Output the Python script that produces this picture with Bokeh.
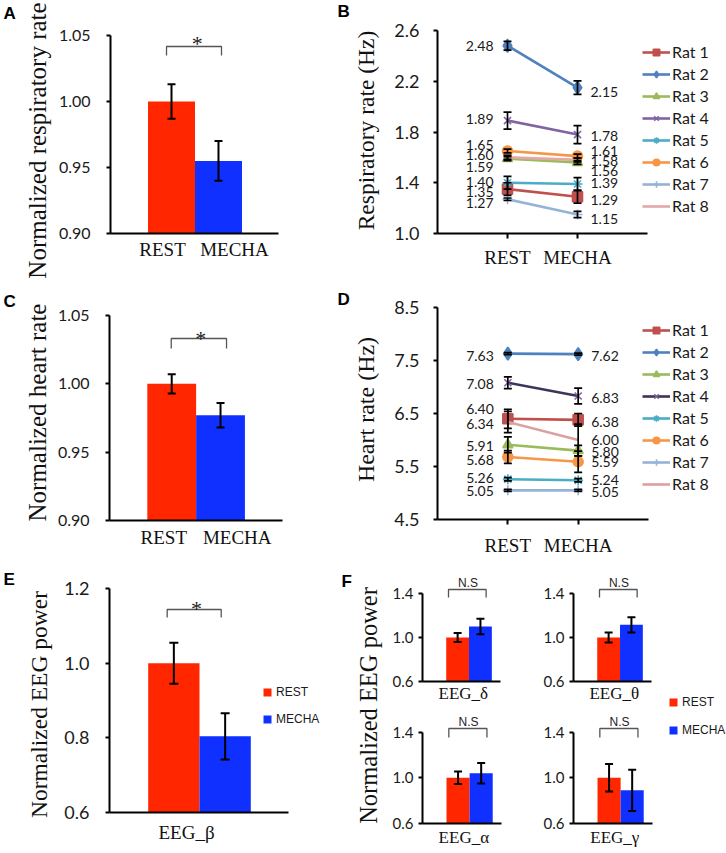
import math
from bokeh.plotting import figure
from bokeh.models import (ColumnDataSource, Range1d, FixedTicker, FactorRange,
                          Label, Legend, LegendItem, NumeralTickFormatter)
from bokeh.layouts import row, column
from bokeh.embed import file_html
from bokeh.resources import INLINE
from bokeh.core.properties import value

# ---------------------------------------------------------------- data
CONDITIONS = ["REST", "MECHA"]

resp_norm_mean = [1.000, 0.955]
resp_norm_sem = [0.013, 0.015]
heart_norm_mean = [1.000, 0.977]
heart_norm_sem = [0.007, 0.009]

RATS = ["Rat 1", "Rat 2", "Rat 3", "Rat 4", "Rat 5", "Rat 6", "Rat 7", "Rat 8"]
resp_rest = [1.35, 2.48, 1.59, 1.89, 1.40, 1.65, 1.27, 1.60]
resp_mecha = [1.29, 2.15, 1.56, 1.78, 1.39, 1.61, 1.15, 1.58]
resp_rest_sem = [0.05, 0.035, 0.015, 0.067, 0.05, 0.015, 0.01, 0.015]
resp_mecha_sem = [0.05, 0.053, 0.015, 0.071, 0.05, 0.015, 0.025, 0.015]

heart_rest = [6.40, 7.63, 5.91, 7.08, 5.26, 5.68, 5.05, 6.34]
heart_mecha = [6.38, 7.62, 5.80, 6.83, 5.24, 5.59, 5.05, 6.00]
heart_rest_sem = [0.18, 0.02, 0.15, 0.11, 0.03, 0.12, 0.02, 0.20]
heart_mecha_sem = [0.12, 0.02, 0.10, 0.15, 0.03, 0.20, 0.02, 0.30]

beta_mean = [1.000, 0.804]
beta_sem = [0.055, 0.062]

BANDS = ["EEG_δ", "EEG_θ", "EEG_α", "EEG_γ"]
band_rest_mean = [1.00, 1.00, 1.00, 1.00]
band_rest_sem = [0.04, 0.045, 0.055, 0.12]
band_mecha_mean = [1.10, 1.115, 1.04, 0.89]
band_mecha_sem = [0.07, 0.07, 0.09, 0.18]

norm_ticks = [0.90, 0.95, 1.00, 1.05]
resp_ticks = [1.0, 1.4, 1.8, 2.2, 2.6]
heart_ticks = [4.5, 5.5, 6.5, 7.5, 8.5]
beta_ticks = [0.6, 0.8, 1.0, 1.2]
band_ticks = [0.6, 1.0, 1.4]

# category positions on the numeric x scales (1 = REST, 2 = MECHA)
XPOS = [i + 1 for i in range(len(CONDITIONS))]

# ---------------------------------------------------------------- style
RED = "#FF2600"
BLUE = "#0F30FF"
RAT_COLORS = ["#C0504D", "#4F81BD", "#9BBB59", "#8064A2", "#4BACC6", "#F79646", "#95B3D7", "#E3A8A6"]
RAT_COLORS_D = ["#C0504D", "#4F81BD", "#9BBB59", "#3E3358", "#4BACC6", "#F79646", "#95B3D7", "#DDA09E"]
RAT_MARKERS = ["square", "diamond", "triangle", "x", "asterisk", "circle", "cross", None]
RAT_SIZES = [10, 13, 10, 10, 10, 10, 10, 0]
# value-label vertical nudges in px (+ = down) to keep them apart
resp_dy_rest = [3, 0, 8, -2, -1, -6, 4, -2]
resp_dy_mecha = [3, 4, 9, 1, -1, -5, 5, 1]
heart_dy_rest = [-10, 2, 1, 1, -1, 3, 1, 2]
heart_dy_mecha = [2, 2, 1, 2, 0, 0, 2, 0]

SERIF = "Liberation Serif"
SANS = "Liberation Sans"
TICKF = "Lato"


def mkfig(box, frame, x_range, y_range, axes=True):
    x0, y0, w, h = box
    fl, ft, fr, fb = frame
    bl = round(fl - x0)
    br = round(x0 + w - fr)
    bt = round(ft - y0)
    bb = round(y0 + h - fb)
    kw = dict(width=w, height=h, x_range=x_range, y_range=y_range, title=None,
              output_backend="svg", toolbar_location=None,
              min_border_left=bl, min_border_right=br,
              min_border_top=bt, min_border_bottom=bb)
    if not axes:
        kw.update(x_axis_location=None, y_axis_location=None)
    p = figure(**kw)
    p.outline_line_color = None
    p.xgrid.visible = False
    p.ygrid.visible = False
    p.background_fill_color = "white"
    p.border_fill_color = "white"
    return p, (x0 + bl, y0 + bt, x0 + w - br, y0 + h - bb)


def strip(box, items):
    """blank figure (frame = whole figure) holding panel letter / axis title"""
    x0, y0, w, h = box
    p, fr = mkfig(box, (x0, y0, x0 + w, y0 + h), Range1d(0, 1), Range1d(0, 1), axes=False)
    for kind, rx, ry, text, size in items:
        if kind == "letter":
            lab = Label(x=rx - x0, y=y0 + h - ry, x_units="screen", y_units="screen", text=text,
                        text_align="left", text_baseline="top", text_font=SANS,
                        text_font_style="bold", text_font_size=f"{size}px", text_color="black")
        else:
            lab = Label(x=rx - x0, y=y0 + h - ry, x_units="screen", y_units="screen", text=text,
                        angle=math.pi / 2, text_align="center", text_baseline="middle",
                        text_font=SERIF, text_font_size=f"{size}px", text_color="#111111")
        p.add_layout(lab)
    return p


def style_y(p, ticks, fmt, bounds, size, standoff):
    ax = p.yaxis[0]
    ax.ticker = FixedTicker(ticks=ticks)
    ax.formatter = NumeralTickFormatter(format=fmt)
    ax.bounds = bounds
    ax.axis_line_width = 2
    ax.axis_line_color = "black"
    ax.major_tick_line_width = 2
    ax.major_tick_line_color = "black"
    ax.major_tick_out = 4
    ax.major_tick_in = 0
    ax.minor_tick_out = 0
    ax.minor_tick_in = 0
    ax.major_label_text_font = TICKF
    ax.major_label_text_font_size = f"{size}px"
    ax.major_label_text_color = "#1a1a1a"
    ax.major_label_standoff = standoff


def style_x(p, bounds, tick_pos, tick_text, size, standoff, tick_out=0):
    ax = p.xaxis[0]
    ax.bounds = bounds
    ax.ticker = FixedTicker(ticks=tick_pos)
    ax.major_label_overrides = {t: s for t, s in zip(tick_pos, tick_text)}
    ax.axis_line_width = 2
    ax.axis_line_color = "black"
    ax.major_tick_out = tick_out
    ax.major_tick_in = 0
    ax.major_tick_line_width = 2
    ax.major_tick_line_color = "black"
    ax.minor_tick_out = 0
    ax.minor_tick_in = 0
    ax.major_label_text_font = SERIF
    ax.major_label_text_font_size = f"{size}px"
    ax.major_label_text_color = "#111111"
    ax.major_label_standoff = standoff


def legend_style(**kw):
    base = dict(padding=0, margin=0, border_line_color=None, background_fill_alpha=0,
                label_text_color="#1a1a1a")
    base.update(kw)
    return base


# ---------------------------------------------------------------- bar panels
def bar_panel(box, frame, axis_top, yspan, ticks, fmt, tick_size, tick_standoff,
              means, sems, xr, xbounds, cap, xlab_pos, xlab_text, xlab_size, xlab_standoff,
              bracket_x, bracket_px, mark, mark_x, mark_px, mark_font, mark_size):
    ymin, ymax = yspan
    fl, ft, fr, fb = frame
    yend = ymin + (ymax - ymin) * (fb - ft) / (fb - axis_top)

    def py(v):
        return ymin + (ymax - ymin) * (fb - v) / (fb - axis_top)

    p, fra = mkfig(box, frame, Range1d(*xr), Range1d(ymin, yend))
    src = ColumnDataSource(dict(
        x=XPOS, cond=CONDITIONS, top=means,
        lo=[m - s for m, s in zip(means, sems)],
        hi=[m + s for m, s in zip(means, sems)],
        color=[RED, BLUE]))
    bars = p.vbar(x="x", top="top", bottom=ymin, width=1.0, source=src,
                  fill_color="color", line_color=None)
    p.segment(x0="x", y0="lo", x1="x", y1="hi", source=src, line_color="black", line_width=2)
    p.scatter(x="x", y="lo", source=src, marker="dash", size=cap, line_color="black", line_width=2)
    p.scatter(x="x", y="hi", source=src, marker="dash", size=cap, line_color="black", line_width=2)
    btop, bbot = bracket_px
    xl, xh = bracket_x
    p.line(x=[xl, xl, xh, xh], y=[py(bbot), py(btop), py(btop), py(bbot)],
           line_color="#555555", line_width=1.3)
    p.text(x=[mark_x], y=[py(mark_px)], text=[mark], text_align="center",
           text_baseline="alphabetic", text_font=value(mark_font),
           text_font_size=f"{mark_size}px", text_color="#222222")
    style_y(p, ticks, fmt, (ymin, ymax), tick_size, tick_standoff)
    style_x(p, xbounds, xlab_pos, xlab_text, xlab_size, xlab_standoff)
    return p, fra, bars


# Panel A  (x: 47 px per category, REST at x=1)
pA, frA, _ = bar_panel((54, 0, 276, 280), (110, 24, 278, 233), 35, (0.90, 1.05), norm_ticks,
                       "0.00", 16, 16, resp_norm_mean, resp_norm_sem,
                       (-0.298, 3.277), (-0.298, 3.277), 8,
                       [0.809, 2.34], CONDITIONS, 19, 5,
                       (0.894, 2.064), (46, 55), "*", 1.547, 43, SERIF, 22)
# Panel C
pC, frC, _ = bar_panel((54, 280, 276, 280), (109, 315, 282, 520), 315, (0.90, 1.05), norm_ticks,
                       "0.00", 16, 16, heart_norm_mean, heart_norm_sem,
                       (-0.275, 3.27), (-0.275, 3.27), 8,
                       [0.838, 2.342], CONDITIONS, 19, 6,
                       (0.99, 2.123), (338, 348), "*", 1.594, 338, SERIF, 22)
# Panel E (frame runs on to hold the legend; axis line stops at its bound)
pE, frE, barsE = bar_panel((54, 560, 286, 290), (109, 588, 340, 812), 588, (0.6, 1.2), beta_ticks,
                           "0.0", 18, 16, beta_mean, beta_sem,
                           (-0.2544, 4.2485), (-0.2544, 3.235), 9,
                           [1.247], ["EEG_β"], 19, 9,
                           (0.87, 1.923), (609, 617), "*", 1.44, 608, SERIF, 22)
legE = Legend(items=[LegendItem(label=CONDITIONS[0], renderers=[barsE], index=0),
                     LegendItem(label=CONDITIONS[1], renderers=[barsE], index=1)],
              location=(153, 86), glyph_width=10, glyph_height=10, label_height=12,
              spacing=13, label_standoff=4,
              **legend_style(label_text_font=SANS, label_text_font_size="12px"))
pE.add_layout(legE)


# ---------------------------------------------------------------- line panels (B, D)
def line_panel(box, frame, axis_right, yr, ticks, rest, mecha, rest_sem, mecha_sem,
               dy_rest, dy_mecha, colors, label_standoff, legend_x, legend_vy):
    fl, ft, fr, fb = frame
    unit = (axis_right - fl) / 3.0
    xr = Range1d(0, (fr - fl) / unit)
    p, fra = mkfig(box, frame, xr, Range1d(*yr))
    items = []
    for i, rat in enumerate(RATS):
        src = ColumnDataSource(dict(x=XPOS, y=[rest[i], mecha[i]]))
        rs = [p.line("x", "y", source=src, line_color=colors[i], line_width=2.6)]
        if RAT_MARKERS[i]:
            mcol = RAT_COLORS[i]
            rs.append(p.scatter("x", "y", source=src, marker=RAT_MARKERS[i], size=RAT_SIZES[i],
                                fill_color=mcol, line_color=mcol, line_width=1.6))
        items.append(LegendItem(label=rat, renderers=rs))
    ex, elo, ehi = [], [], []
    for i in range(len(RATS)):
        for xpos, m, s in ((XPOS[0], rest[i], rest_sem[i]), (XPOS[1], mecha[i], mecha_sem[i])):
            ex.append(xpos)
            elo.append(m - s)
            ehi.append(m + s)
    esrc = ColumnDataSource(dict(x=ex, lo=elo, hi=ehi))
    p.segment(x0="x", y0="lo", x1="x", y1="hi", source=esrc, line_color="black", line_width=1.7)
    p.scatter(x="x", y="lo", source=esrc, marker="dash", size=8, line_color="black", line_width=1.7)
    p.scatter(x="x", y="hi", source=esrc, marker="dash", size=8, line_color="black", line_width=1.7)
    p.text(x=[XPOS[0]] * len(rest), y=rest, text=[f"{v:.2f}" for v in rest],
           x_offset=-14, y_offset=dy_rest, text_align="right", text_baseline="middle",
           text_font=value(TICKF), text_font_size="14px", text_color="#1a1a1a")
    p.text(x=[XPOS[1]] * len(mecha), y=mecha, text=[f"{v:.2f}" for v in mecha],
           x_offset=13, y_offset=dy_mecha, text_align="left", text_baseline="middle",
           text_font=value(TICKF), text_font_size="14px", text_color="#1a1a1a")
    style_y(p, ticks, "0.0", yr, 18, 14)
    style_x(p, (0, 3), XPOS, CONDITIONS, 19, label_standoff, tick_out=5)
    leg = Legend(items=items, location=(legend_x - fl, legend_vy), glyph_width=28,
                 glyph_height=16, label_height=16, spacing=3, label_standoff=2,
                 **legend_style(label_text_font=TICKF, label_text_font_size="16px"))
    p.add_layout(leg)
    return p, fra


pB, frB = line_panel((384, 0, 342, 280), (437, 30, 726, 233), 647, (1.0, 2.6), resp_ticks,
                     resp_rest, resp_mecha, resp_rest_sem, resp_mecha_sem,
                     resp_dy_rest, resp_dy_mecha, RAT_COLORS, 8, 642, 18)
pD, frD = line_panel((384, 280, 342, 280), (437, 307, 726, 519), 648, (4.5, 8.5), heart_ticks,
                     heart_rest, heart_mecha, heart_rest_sem, heart_mecha_sem,
                     heart_dy_rest, heart_dy_mecha, RAT_COLORS_D, 10, 642, 26)

# ---------------------------------------------------------------- panel F (four bands)
FX = (-0.54, 2.88)


def band_panel(box, frame, axis_top, k, bracket_px, ns_px, lab_standoff):
    p, _, _ = bar_panel(box, frame, axis_top, (0.6, 1.4), band_ticks, "0.0", 15, 5,
                        [band_rest_mean[k], band_mecha_mean[k]],
                        [band_rest_sem[k], band_mecha_sem[k]],
                        FX, FX, 8, [1.25], [BANDS[k]], 17, lab_standoff,
                        (0.6, 2.25), bracket_px, "N.S", 1.45, ns_px + 4, SANS, 12)
    return p


pDelta = band_panel((385, 560, 152, 148), (422, 563, 500, 681), 593, 0, (589, 597), 578, 2)
pTheta = band_panel((537, 560, 123, 148), (573, 563, 651, 681), 593, 1, (589, 597), 578, 2)
pAlpha = band_panel((385, 708, 152, 142), (422, 709, 501, 823), 731.5, 2, (728, 737), 717, 4)
pGamma = band_panel((537, 708, 123, 142), (573, 709, 652, 823), 731.5, 3, (728, 737), 717, 4)

# legend strip for F (its bars are hidden; they only feed the legend swatches)
boxFR = (660, 560, 66, 290)
pFR, _ = mkfig(boxFR, (660, 560, 726, 850), FactorRange(factors=CONDITIONS), Range1d(0, 2),
               axes=False)
srcFR = ColumnDataSource(dict(x=CONDITIONS, top=[band_rest_mean[0], band_mecha_mean[0]],
                              color=[RED, BLUE]))
rFR = pFR.vbar(x="x", top="top", width=0.8, source=srcFR, fill_color="color", line_color=None,
               visible=False)
legF = Legend(items=[LegendItem(label=CONDITIONS[0], renderers=[rFR], index=0),
                     LegendItem(label=CONDITIONS[1], renderers=[rFR], index=1)],
              location=(8, 113), glyph_width=10, glyph_height=10, label_height=12,
              spacing=14, label_standoff=4, inactive_fill_alpha=0,
              **legend_style(label_text_font=SANS, label_text_font_size="12px"))
pFR.add_layout(legF)

# ---------------------------------------------------------------- letter / title strips
sA = strip((0, 0, 54, 280), [("letter", 3, 3.3, "A", 17),
                             ("title", 37, 140, "Normalized respiratory rate", 25)])
sB = strip((330, 0, 54, 280), [("letter", 337, 1.6, "B", 17),
                               ("title", 365, 130, "Respiratory rate (Hz)", 23.5)])
sC = strip((0, 280, 54, 280), [("letter", 3, 291.6, "C", 17),
                               ("title", 37, 412, "Normalized heart rate", 25)])
sD = strip((330, 280, 54, 280), [("letter", 337, 289.6, "D", 17),
                                 ("title", 365, 409, "Heart rate (Hz)", 24)])
sE = strip((0, 560, 54, 290), [("letter", 3, 569.6, "E", 17),
                               ("title", 38, 704, "Normalized EEG power", 23.5)])
sF = strip((340, 560, 45, 290), [("letter", 341, 571.6, "F", 17),
                                 ("title", 368, 705, "Normalized EEG power", 24.5)])


def W(p):
    # each plot sits in its own box so that neighbouring frames are not aligned
    return column(p, spacing=0)


layout = column(
    row(W(sA), W(pA), W(sB), W(pB), spacing=0),
    row(W(sC), W(pC), W(sD), W(pD), spacing=0),
    row(W(sE), W(pE), W(sF),
        column(row(W(pDelta), W(pTheta), spacing=0), row(W(pAlpha), W(pGamma), spacing=0),
               spacing=0),
        W(pFR), spacing=0),
    spacing=0)

open("out.html", "w").write(file_html(layout, INLINE))
